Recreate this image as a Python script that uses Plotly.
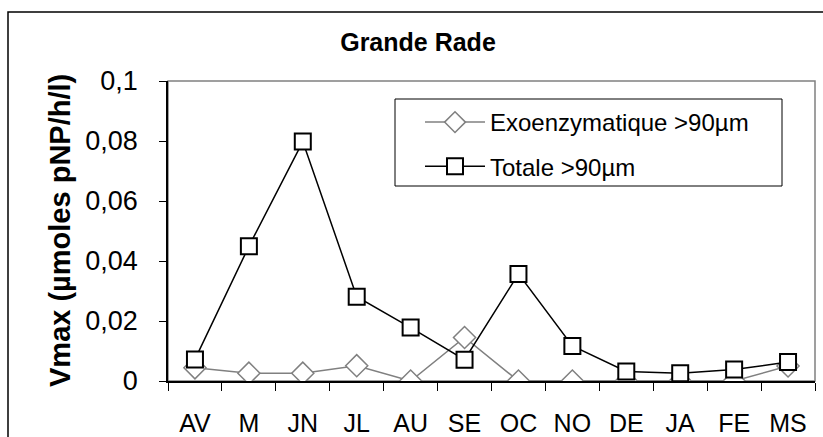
import plotly.graph_objects as go

months = ["AV", "M", "JN", "JL", "AU", "SE", "OC", "NO", "DE", "JA", "FE", "MS"]
exo = [0.0044, 0.0026, 0.0026, 0.0051, 0.0, 0.0145, 0.0, 0.0, 0.0, 0.0, 0.0, 0.005]
totale = [0.0072, 0.0449, 0.0798, 0.0281, 0.0178, 0.0071, 0.0357, 0.0117, 0.0032, 0.0026, 0.0038, 0.0063]

W, H = 823, 437
L, R, T, B = 168, 8, 81, 56
pw, ph = W - L - R, H - T - B

FONT = "Arial, Liberation Sans, sans-serif"

fig = go.Figure()
fig.add_trace(go.Scatter(
    x=months, y=exo, mode="lines+markers", name="Exoenzymatique >90µm",
    line=dict(color="#808080", width=1.5),
    marker=dict(symbol="diamond", size=17, color="white", line=dict(color="#808080", width=1.5)),
    legendgroup="a",
))
fig.add_trace(go.Scatter(
    x=months, y=totale, mode="lines+markers", name="Totale >90µm",
    line=dict(color="black", width=1.5),
    marker=dict(symbol="square", size=16, color="white", line=dict(color="black", width=2)),
    legendgroup="b",
))

def px_x(p):
    return (p - L) / pw

def px_y(p):
    return (H - B - p) / ph

shapes = [
    # outer chart border (cropped at right/bottom)
    dict(type="rect", xref="paper", yref="paper", x0=px_x(8), x1=px_x(840), y0=px_y(460), y1=px_y(12),
         line=dict(color="black", width=1.5), fillcolor="rgba(0,0,0,0)", layer="below"),
    # plot area border
    dict(type="rect", xref="paper", yref="paper", x0=0, x1=1, y0=0, y1=1,
         line=dict(color="#808080", width=1.5), fillcolor="rgba(0,0,0,0)", layer="below"),
    # legend box
    dict(type="rect", xref="paper", yref="paper", x0=px_x(395), x1=px_x(782), y0=px_y(186), y1=px_y(99),
         line=dict(color="black", width=1), fillcolor="rgba(0,0,0,0)", layer="above"),
]

fig.update_layout(
    width=W, height=H,
    margin=dict(l=L, r=R, t=T, b=B, autoexpand=False),
    paper_bgcolor="white", plot_bgcolor="white",
    separators=", ",
    font=dict(family=FONT, color="black", size=25),
    title=dict(text="<b>Grande Rade</b>", x=418 / W, xanchor="center", y=1 - 42 / H, yanchor="middle",
               font=dict(family=FONT, size=25, color="black")),
    showlegend=True,
    legend=dict(x=px_x(420), y=px_y(100), xanchor="left", yanchor="top",
                bgcolor="rgba(0,0,0,0)", borderwidth=0,
                font=dict(family=FONT, size=24, color="black"),
                tracegroupgap=10, itemwidth=60),
    shapes=shapes,
    annotations=[dict(text="<b>Vmax (µmoles pNP/h/l)</b>", xref="paper", yref="paper",
                      x=px_x(60), y=px_y(230), xanchor="center", yanchor="middle",
                      textangle=-90, showarrow=False,
                      font=dict(family=FONT, size=29, color="black"))],
    xaxis=dict(
        type="category", categoryorder="array", categoryarray=months,
        range=[-0.5, 11.5], showline=True, linecolor="black", linewidth=1.5,
        ticks="outside", tickson="boundaries", ticklen=8, tickcolor="black", tickwidth=1,
        showgrid=False, zeroline=False, ticklabelstandoff=19, automargin=False,
        tickfont=dict(family=FONT, size=25, color="black"),
    ),
    yaxis=dict(
        range=[0, 0.1], dtick=0.02, tick0=0, showline=True, linecolor="black", linewidth=1.5,
        ticks="outside", ticklen=7, tickcolor="black", tickwidth=1,
        showgrid=False, zeroline=False, ticklabelstandoff=16, automargin=False,
        tickfont=dict(family=FONT, size=27, color="black"),
    ),
)

fig.write_html("out.html", config={"displayModeBar": False},
               post_script="document.body.style.margin='0';document.body.style.padding='0';")
